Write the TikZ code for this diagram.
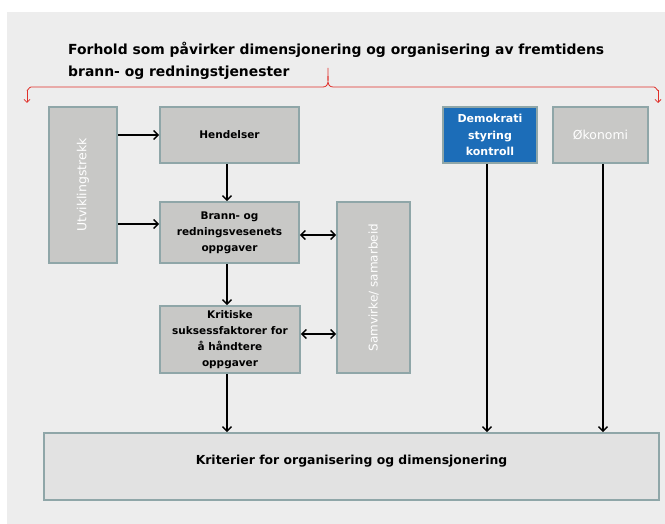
\documentclass[tikz,border=0pt]{standalone}
\usepackage{fontspec}
\setmainfont{DejaVu Sans}
\usetikzlibrary{arrows.meta,calc}
\definecolor{bgc}{HTML}{EDEDED}
\definecolor{boxc}{HTML}{C8C8C6}
\definecolor{edgec}{HTML}{8FA6A8}
\definecolor{botc}{HTML}{E2E2E2}
\definecolor{bluec}{HTML}{1C6DB8}
\definecolor{bracec}{HTML}{E0302A}
\tikzset{
  gbox/.style={draw=edgec, line width=1.6pt, fill=boxc, inner sep=2pt, align=center,
    font=\fontsize{10.5}{16}\selectfont\bfseries},
  wtext/.style={text=white, font=\fontsize{12.5}{16}\selectfont},
  arr/.style={line width=1.4pt, -{Straight Barb[length=4.5pt,width=9pt,line width=1.4pt]}},
  darr/.style={line width=1.4pt, {Straight Barb[length=4.5pt,width=9pt,line width=1.4pt]}-{Straight Barb[length=4.5pt,width=9pt,line width=1.4pt]}},
  brc/.style={draw=bracec, line width=0.8pt}
}
\begin{document}
\begin{tikzpicture}[x=1pt,y=-1pt]
\useasboundingbox (0,0) rectangle (665,524);
\fill[bgc] (7,12) rectangle (665,524);
% title
\node[anchor=north west, align=left, font=\fontsize{13.9}{22}\selectfont\bfseries, inner sep=0pt] (title) at (68,42)
  {Forhold som påvirker dimensjonering og organisering av fremtidens\\brann- og redningstjenester};
% brace
\coordinate (bl) at (27,103);
\coordinate (br) at (658,103);
\coordinate (bp) at (328,68);
\draw[brc, -{Straight Barb[length=3pt,width=6pt]}] (27,90) -- (bl);
\draw[brc, -{Straight Barb[length=3pt,width=6pt]}] (658,90) -- (br);
\draw[brc] (27,90) to[out=-90,in=180] (31,87) -- (323,87) to[out=0,in=-95] (bp) to[out=-85,in=180] (333,87) -- (654,87) to[out=0,in=-90] (658,90);
% boxes
\node[gbox, minimum width=68pt, minimum height=156pt] (util) at (83,185) {};
\node[wtext, rotate=90] (utilt) at (util.center) {Utviklingstrekk};
\node[gbox, minimum width=139pt, minimum height=56pt] (hend) at (229.5,135) {Hendelser};
\node[gbox, minimum width=139pt, minimum height=61pt] (brann) at (229.5,232.5) {Brann- og\\redningsvesenets\\oppgaver};
\node[gbox, minimum width=140pt, minimum height=67pt] (krit) at (230,339.5) {Kritiske\\suksessfaktorer for\\å håndtere\\oppgaver};
\node[gbox, minimum width=73pt, minimum height=171pt] (samv) at (373.5,287.5) {};
\node[wtext, rotate=90, font=\fontsize{12}{16}\selectfont] (samvt) at (samv.center) {Samvirke/ samarbeid};
\node[gbox, fill=bluec, text=white, minimum width=94pt, minimum height=56pt, font=\fontsize{11}{16.5}\selectfont\bfseries] (demo) at (490,135) {Demokrati\\styring\\kontroll};
\node[gbox, minimum width=95pt, minimum height=56pt, font=\fontsize{12.4}{16}\selectfont, text=white] (okon) at (600.5,135) {Økonomi};
\node[gbox, fill=botc, minimum width=615pt, minimum height=67pt, text height=8pt, text depth=13pt, font=\fontsize{12.4}{16}\selectfont\bfseries] (bot) at (351.5,466.5) {Kriterier for organisering og dimensjonering};
% connectors
\draw[arr] (util.east |- hend.west) -- (hend.west);
\path ([yshift=8.5pt]brann.west) coordinate (bw);
\draw[arr] (util.east |- bw) -- (bw);
\draw[arr] ([xshift=-2.5pt]hend.south) -- ([xshift=-2.5pt]brann.north);
\draw[arr] ([xshift=-2.5pt]brann.south) -- ([xshift=-3pt]krit.north);
\path ([yshift=-2.5pt]brann.east) coordinate (be);
\draw[darr] (be) -- (samv.west |- be);
\path ([yshift=5.5pt]krit.east) coordinate (ke);
\draw[darr] (ke) -- (samv.west |- ke);
\path ([xshift=-3pt]krit.south) coordinate (ks);
\draw[arr] (ks) -- (ks |- bot.north);
\path ([xshift=-3pt]demo.south) coordinate (ds);
\draw[arr] (ds) -- (ds |- bot.north);
\path ([xshift=2.5pt]okon.south) coordinate (os);
\draw[arr] (os) -- (os |- bot.north);
\end{tikzpicture}
\end{document}
